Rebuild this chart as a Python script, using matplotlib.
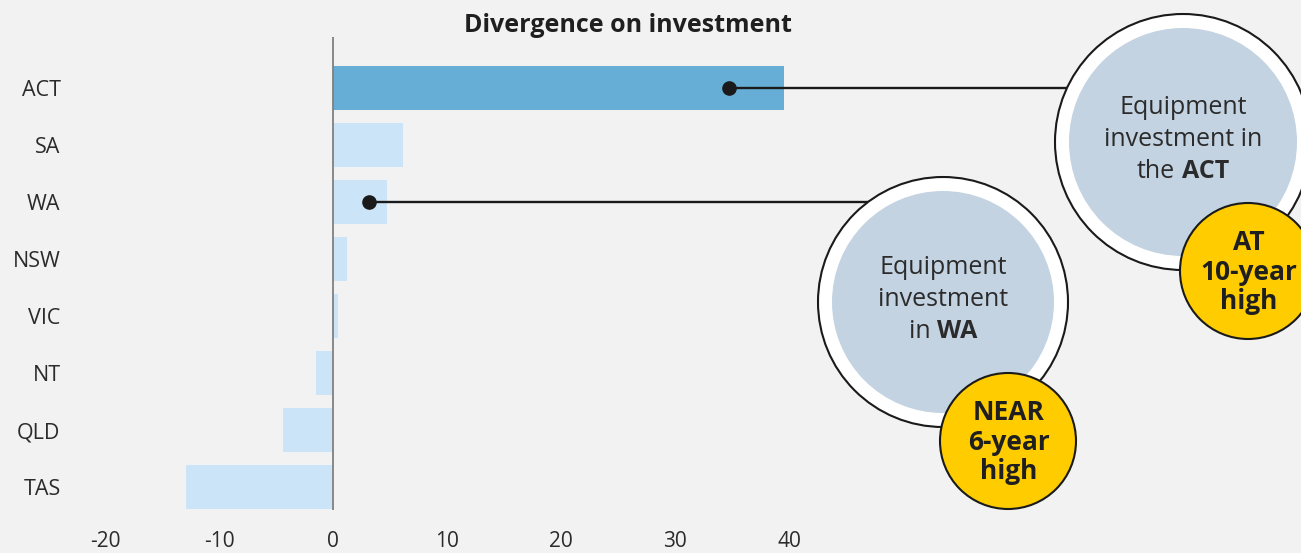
import matplotlib
matplotlib.use('Agg')
import matplotlib.pyplot as plt
from matplotlib import font_manager as fm
from matplotlib.patches import Circle, ConnectionPatch
from matplotlib.transforms import blended_transform_factory

# data
states = ['ACT', 'SA', 'WA', 'NSW', 'VIC', 'NT', 'QLD', 'TAS']
divergence = [39.6, 6.1, 4.7, 1.2, 0.45, -1.5, -4.4, -12.9]
x_ticks = [-20, -10, 0, 10, 20, 30, 40]
highlight = 'ACT'

# callouts: which bar, where the dot sits on it
callout_states = ['ACT', 'WA']
callout_values = [34.7, 3.2]
callout_lines = [
    [[('Equipment', 'normal')], [('investment in', 'normal')], [('the', 'normal'), ('ACT', 'bold')]],
    [[('Equipment', 'normal')], [('investment', 'normal')], [('in', 'normal'), ('WA', 'bold')]],
]
badge_text = ['AT\n10-year\nhigh', 'NEAR\n6-year\nhigh']

# bubble layout in figure pixels (centre, radius, badge centre, badge radius)
bubble_layout = [
    dict(c=(1183, 142), r=128, b=(1248, 271), br=68),
    dict(c=(943, 302), r=125, b=(1008, 441), br=68),
]

W, H = 1301, 553
BG = '#f2f2f2'
TXT = '#2b2b2b'


def pick_family(cands):
    # first family that really has a bold face installed
    for fam in cands:
        try:
            reg = fm.findfont(fm.FontProperties(family=fam), fallback_to_default=False)
            bold = fm.findfont(fm.FontProperties(family=fam, weight='bold'), fallback_to_default=False)
        except Exception:
            continue
        if reg != bold:
            return fam
    return 'DejaVu Sans'


family = pick_family(['Noto Sans', 'Open Sans', 'Lato', 'Roboto', 'Liberation Sans'])
plt.rcParams['font.family'] = [family, 'DejaVu Sans']

fig = plt.figure(figsize=(W / 100, H / 100), dpi=100, facecolor=BG)

# main bar axes: zero at x=333px, ~11.4 px per unit
px_unit = 11.4
left_px, zero_px = 80, 333
top_px, bot_px = 37, 510
ax = fig.add_axes([left_px / W, 1 - bot_px / H, (W - left_px) / W, (bot_px - top_px) / H])
ax.set_facecolor(BG)
ax.set_xlim(-(zero_px - left_px) / px_unit, (W - zero_px) / px_unit)
ax.set_ylim(7 + (bot_px - 487) / 57, -(88 - top_px) / 57)

ypos = list(range(len(states)))
colors = ['#66aed6' if s == highlight else '#cce4f7' for s in states]
ax.barh(ypos, divergence, height=0.77, color=colors, zorder=2)
ax.axvline(0, color='#808080', lw=1.3, zorder=3)

ax.set_yticks(ypos)
ax.set_yticklabels(states, fontsize=15.5, color=TXT)
ax.set_xticks(x_ticks)
ax.set_xticklabels([str(t) for t in x_ticks], fontsize=15, color=TXT)
ax.tick_params(axis='y', length=0, pad=14)
ax.tick_params(axis='x', length=0, pad=15)
for sp in ax.spines.values():
    sp.set_visible(False)

fig.text(628 / W, 1 - 26 / H, 'Divergence on investment', ha='center', va='center',
         fontsize=18, fontweight='bold', color='#1f1f1f')

# overlay axes in pixel units for the bubbles
ax2 = fig.add_axes([0, 0, 1, 1], zorder=3)
ax2.set_xlim(0, W)
ax2.set_ylim(H, 0)
ax2.axis('off')

renderer = fig.canvas.get_renderer()
body_size = 18
line_gap = 32

for state, val, lines, badge, lay in zip(callout_states, callout_values, callout_lines,
                                         badge_text, bubble_layout):
    idx = states.index(state)
    cx, cy = lay['c']
    ax.plot(val, idx, 'o', color='#1a1a1a', ms=9.5, zorder=5)
    end_tr = blended_transform_factory(ax2.transData, ax.transData)
    con = ConnectionPatch(xyA=(val, idx), coordsA=ax.transData,
                          xyB=(cx, idx), coordsB=end_tr,
                          color='#1a1a1a', lw=1.7, zorder=1)
    ax2.add_artist(con)

    ax2.add_patch(Circle((cx, cy), lay['r'], facecolor='white', edgecolor='#1a1a1a', lw=1.5, zorder=2))
    ax2.add_patch(Circle((cx, cy), lay['r'] - 14, facecolor='#c3d3e2', edgecolor='none', zorder=3))

    # text lines, centred, with mixed weights
    n = len(lines)
    for k, parts in enumerate(lines):
        y = cy + (k - (n - 1) / 2) * line_gap - 3
        texts = [ax2.text(0, y, s, fontsize=body_size, fontweight=w, color=TXT,
                          ha='left', va='center', zorder=4) for s, w in parts]
        widths = [t.get_window_extent(renderer).width for t in texts]
        gap = 0.27 * body_size * 100 / 72
        total = sum(widths) + gap * (len(texts) - 1)
        x = cx - total / 2
        for t, w in zip(texts, widths):
            t.set_x(x)
            x += w + gap

    bx, by = lay['b']
    ax2.add_patch(Circle((bx, by), lay['br'], facecolor='#ffcc00', edgecolor='#1a1a1a', lw=1.5, zorder=5))
    ax2.text(bx + 1, by + 1, badge, fontsize=19, fontweight='bold', color='#1f1f1f',
             ha='center', va='center', linespacing=1.12, zorder=6)

fig.savefig('out.png', dpi=100, facecolor=BG)
